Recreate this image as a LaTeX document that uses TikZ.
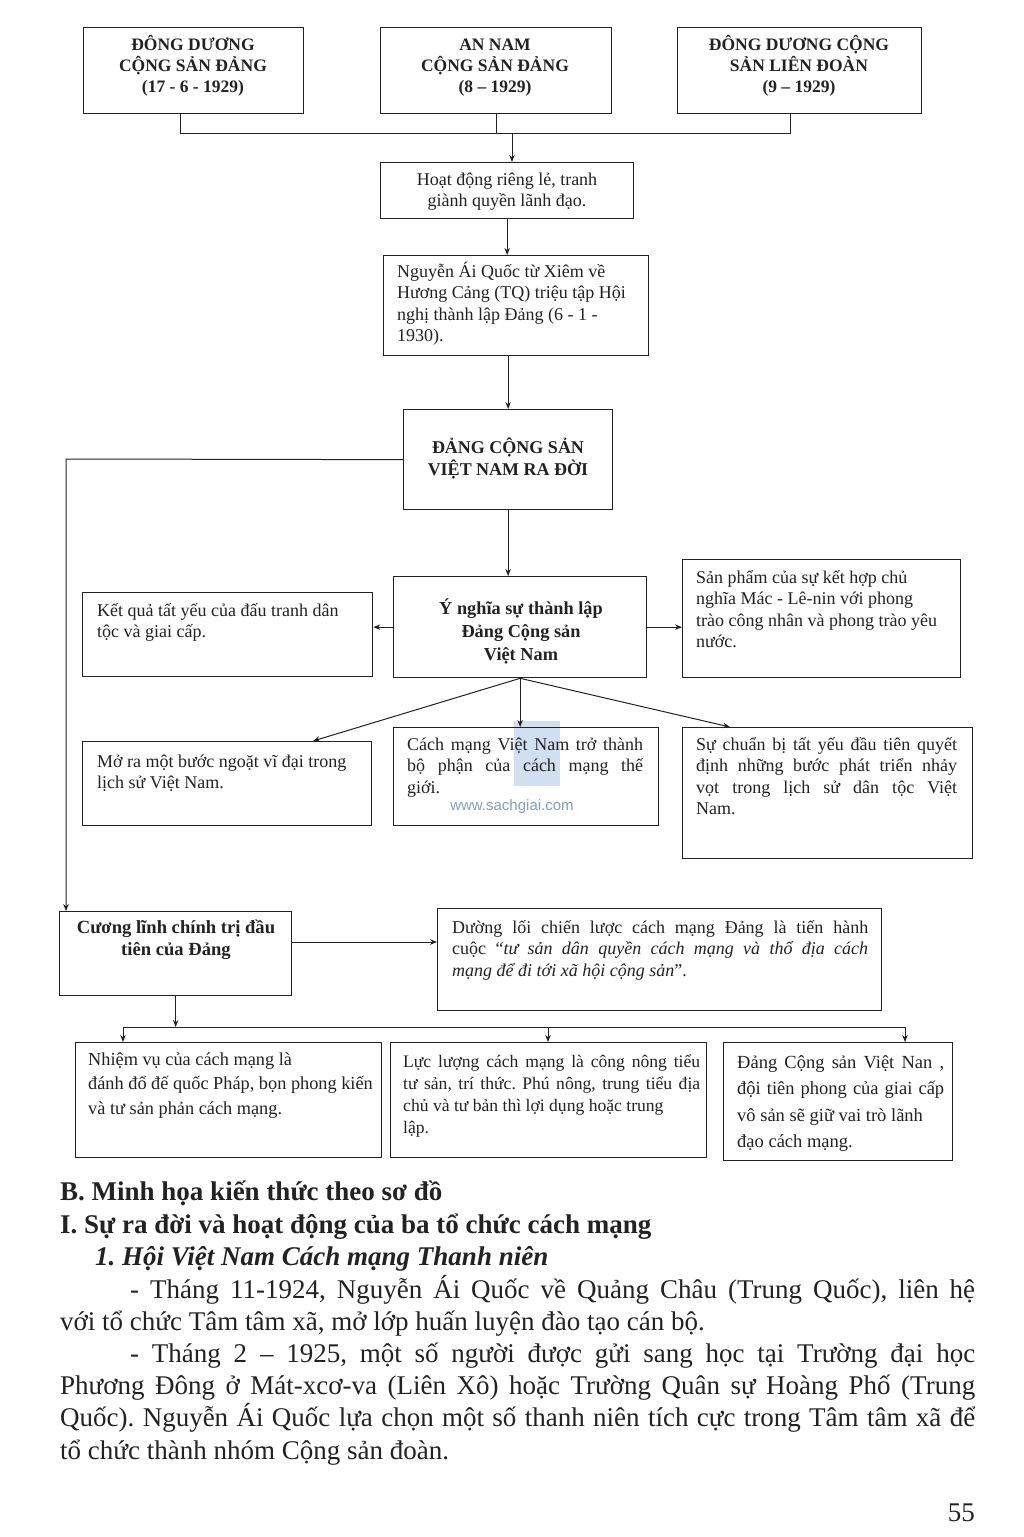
\documentclass[tikz,border=0pt]{standalone}
\usepackage{fontspec}
\setmainfont{Liberation Serif}
\newfontfamily\wmfont{Liberation Sans}
\usetikzlibrary{arrows.meta}
\definecolor{ink}{HTML}{222222}
\definecolor{wmblue}{HTML}{7FA6D8}
\newcommand\boxfnt{\fontsize{18}{21.5}\selectfont}
\newcommand\capfnt{\fontsize{17.5}{21}\selectfont\bfseries}
\newcommand\bodyfnt{\fontsize{27}{32.2}\selectfont}
\hyphenpenalty=10000
\frenchspacing
\begin{document}
\begin{tikzpicture}[x=1pt,y=-1pt,
  box/.style={draw=ink, line width=1.3pt, inner sep=0pt, anchor=north west},
  conn/.style={draw=ink, line width=1pt},
  arr/.style={conn, -{Stealth[length=7pt,width=5.5pt]}},
  txt/.style={inner sep=0pt, anchor=base west, text=ink},
  ctxt/.style={inner sep=0pt, anchor=base, text=ink}]
\useasboundingbox (0,0) rectangle (1024,1537);
\fill[white] (0,0) rectangle (1024,1537);

% ---------- watermark (behind) ----------
\fill[wmblue, opacity=0.35] (514,721) rectangle (560,786);
\node[inner sep=0pt, anchor=base, text=wmblue!80!black, opacity=0.8] (wm4) at (512,810) {\wmfont\fontsize{15}{15}\selectfont www.sachgiai.com};

% ---------- boxes ----------
\node[box, minimum width=220pt, minimum height=86pt] (n1) at (83,27) {};
\node[box, minimum width=231pt, minimum height=86pt] (n2) at (380,27) {};
\node[box, minimum width=244pt, minimum height=86pt] (n3) at (677,27) {};
\node[box, minimum width=253pt, minimum height=56pt] (n4) at (380,162) {};
\node[box, minimum width=265pt, minimum height=100pt] (n5) at (383,255) {};
\node[box, minimum width=209pt, minimum height=100pt] (n6) at (403,409) {};
\node[box, minimum width=253pt, minimum height=101pt] (n7) at (393,576) {};
\node[box, minimum width=290pt, minimum height=84pt] (n8) at (82,592) {};
\node[box, minimum width=278pt, minimum height=118pt] (n9) at (682,559) {};
\node[box, minimum width=289pt, minimum height=84pt] (n10) at (82,741) {};
\node[box, minimum width=265pt, minimum height=98pt] (n11) at (393,727) {};
\node[box, minimum width=290pt, minimum height=131pt] (n12) at (682,727) {};
\node[box, minimum width=232pt, minimum height=84pt] (n13) at (59,911) {};
\node[box, minimum width=444pt, minimum height=102pt] (n14) at (437,908) {};
\node[box, minimum width=306pt, minimum height=115pt] (n15) at (75,1042) {};
\node[box, minimum width=316pt, minimum height=115pt] (n16) at (390,1042) {};
\node[box, minimum width=229pt, minimum height=118pt] (n17) at (723,1042) {};

% ---------- texts in boxes ----------
\node[ctxt] (t1) at (193,50) {\parbox[t]{214pt}{\capfnt\centering ĐÔNG DƯƠNG\\ CỘNG SẢN ĐẢNG\\ (17 - 6 - 1929)\par}};
\node[ctxt] (t2) at (495,50) {\parbox[t]{224pt}{\capfnt\centering AN NAM\\ CỘNG SẢN ĐẢNG\\ (8 – 1929)\par}};
\node[ctxt] (t3) at (799,50) {\parbox[t]{238pt}{\capfnt\centering ĐÔNG DƯƠNG CỘNG\\ SẢN LIÊN ĐOÀN\\ (9 – 1929)\par}};
\node[ctxt] (t4) at (507,185) {\parbox[t]{245pt}{\boxfnt\centering Hoạt động riêng lẻ, tranh\\ giành quyền lãnh đạo.\par}};
\node[txt] (t5) at (397,277) {\parbox[t]{248pt}{\boxfnt\raggedright Nguyễn Ái Quốc từ Xiêm về\\ Hương Cảng (TQ) triệu tập Hội\\ nghị thành lập Đảng (6 - 1 -\\ 1930).\par}};
\node[ctxt] (t6) at (508,453) {\parbox[t]{204pt}{\fontsize{18}{22}\selectfont\bfseries\centering ĐẢNG CỘNG SẢN\\ VIỆT NAM RA ĐỜI\par}};
\node[ctxt] (t7) at (521,614) {\parbox[t]{245pt}{\fontsize{18.3}{23}\selectfont\bfseries\centering Ý nghĩa sự thành lập\\ Đảng Cộng sản\\ Việt Nam\par}};
\node[txt] (t8) at (97,616) {\parbox[t]{272pt}{\boxfnt\raggedright Kết quả tất yếu của đấu tranh dân\\ tộc và giai cấp.\par}};
\node[txt] (t9) at (696,583) {\parbox[t]{262pt}{\boxfnt\raggedright Sản phẩm của sự kết hợp chủ\\ nghĩa Mác - Lê-nin với phong\\ trào công nhân và phong trào yêu\\ nước.\par}};
\node[txt] (t10) at (97,767) {\parbox[t]{272pt}{\boxfnt\raggedright Mở ra một bước ngoặt vĩ đại trong\\ lịch sử Việt Nam.\par}};
\node[txt] (t11) at (407,750) {\parbox[t]{245pt}{\boxfnt\raggedright\makebox[236pt][s]{Cách mạng Việt Nam trở thành}\\ \makebox[236pt][s]{bộ phận của cách mạng thế}\\ giới.\par}};
\node[txt] (t12) at (696,750) {\parbox[t]{274pt}{\boxfnt\raggedright\makebox[261pt][s]{Sự chuẩn bị tất yếu đầu tiên quyết}\\ \makebox[261pt][s]{định những bước phát triển nhảy}\\ \makebox[261pt][s]{vọt trong lịch sử dân tộc Việt}\\ Nam.\par}};
\node[ctxt] (t13) at (176,933) {\parbox[t]{228pt}{\fontsize{18.6}{22}\selectfont\bfseries\centering Cương lĩnh chính trị đầu\\ tiên của Đảng\par}};
\node[txt] (t14) at (452,933) {\parbox[t]{422pt}{\boxfnt\raggedright\makebox[416pt][s]{Dường lối chiến lược cách mạng Đảng là tiến hành}\\ \makebox[416pt][s]{cuộc “\textit{tư sản dân quyền cách mạng và thổ địa cách}}\\ \textit{mạng để đi tới xã hội cộng sản}”.\par}};
\node[txt] (t15) at (88,1065) {\parbox[t]{292pt}{\fontsize{18.3}{24.5}\selectfont\raggedright Nhiệm vụ của cách mạng là\\ đánh đổ đế quốc Pháp, bọn phong kiến\\ và tư sản phản cách mạng.\par}};
\node[txt] (t16) at (403,1067) {\parbox[t]{302pt}{\fontsize{17.6}{22}\selectfont\raggedright\makebox[297pt][s]{Lực lượng cách mạng là công nông tiểu}\\ \makebox[297pt][s]{tư sản, trí thức. Phú nông, trung tiểu địa}\\ chủ và tư bản thì lợi dụng hoặc trung\\ lập.\par}};
\node[txt] (t17) at (737,1068) {\parbox[t]{214pt}{\fontsize{18.5}{26.5}\selectfont\raggedright\makebox[207pt][s]{Đảng Cộng sản Việt Nan ,}\\ \makebox[207pt][s]{đội tiên phong của giai cấp}\\ vô sản sẽ giữ vai trò lãnh\\ đạo cách mạng.\par}};

% ---------- connectors ----------
\coordinate (c1) at (180,133);
\coordinate (c3) at (790,133);
\coordinate (j1) at (512,133);
\draw[conn] (c1 |- n1.south) -- (c1) -- (c3) -- (c3 |- n3.south);
\draw[conn] (n2.south) -- (n2.south |- c1);
\draw[arr] (j1) -- (j1 |- n4.north);
\draw[arr] (n4.south) -- (n4.south |- n5.north);
\draw[arr] (n6.north |- n5.south) -- (n6.north);
\draw[arr] (n6.south) -- (n6.south |- n7.north);
\coordinate (k1) at (66,459);
\draw[arr] (n6.west) -- (k1) -- (k1 |- n13.north);
\draw[arr] (n7.west) -- (n7.west -| n8.east);
\draw[arr] (n7.east) -- (n7.east -| n9.west);
\coordinate (d10) at (313,741);
\coordinate (d12) at (730,727);
\draw[arr] (n7.south) -- (d10);
\draw[arr] (n7.south) -- (n7.south |- n11.north);
\draw[arr] (n7.south) -- (d12);
\coordinate (e13) at (291,942);
\draw[arr] (e13) -- (e13 -| n14.west);
\coordinate (bl) at (123,1027);
\coordinate (bm) at (548,1027);
\coordinate (br) at (905,1027);
\draw[conn] (bl) -- (br);
\draw[arr] (n13.south) -- (n13.south |- bl);
\draw[arr] (bl) -- (bl |- n15.north);
\draw[arr] (bm) -- (bm |- n16.north);
\draw[arr] (br) -- (br |- n17.north);

% ---------- body text ----------
\node[txt] (h1) at (60,1200) {\bodyfnt\bfseries B. Minh họa kiến thức theo sơ đồ};
\node[txt] (h2) at (60,1233) {\bodyfnt\bfseries I. Sự ra đời và hoạt động của ba tổ chức cách mạng};
\node[txt] (h3) at (95,1265) {\bodyfnt\bfseries\itshape 1. Hội Việt Nam Cách mạng Thanh niên};
\node[txt] (body) at (60,1298) {\parbox[t]{915pt}{\bodyfnt\raggedright
\hspace*{70pt}\makebox[845pt][s]{- Tháng 11-1924, Nguyễn Ái Quốc về Quảng Châu (Trung Quốc), liên hệ}\\
với tổ chức Tâm tâm xã, mở lớp huấn luyện đào tạo cán bộ.\\
\hspace*{70pt}\makebox[845pt][s]{- Tháng 2 – 1925, một số người được gửi sang học tại Trường đại học}\\
\makebox[915pt][s]{Phương Đông ở Mát-xcơ-va (Liên Xô) hoặc Trường Quân sự Hoàng Phố (Trung}\\
\makebox[915pt][s]{Quốc). Nguyễn Ái Quốc lựa chọn một số thanh niên tích cực trong Tâm tâm xã để}\\
tổ chức thành nhóm Cộng sản đoàn.\par}};
\node[inner sep=0pt, anchor=base east, text=ink] (pg) at (975,1521) {\bodyfnt 55};
\end{tikzpicture}
\end{document}
